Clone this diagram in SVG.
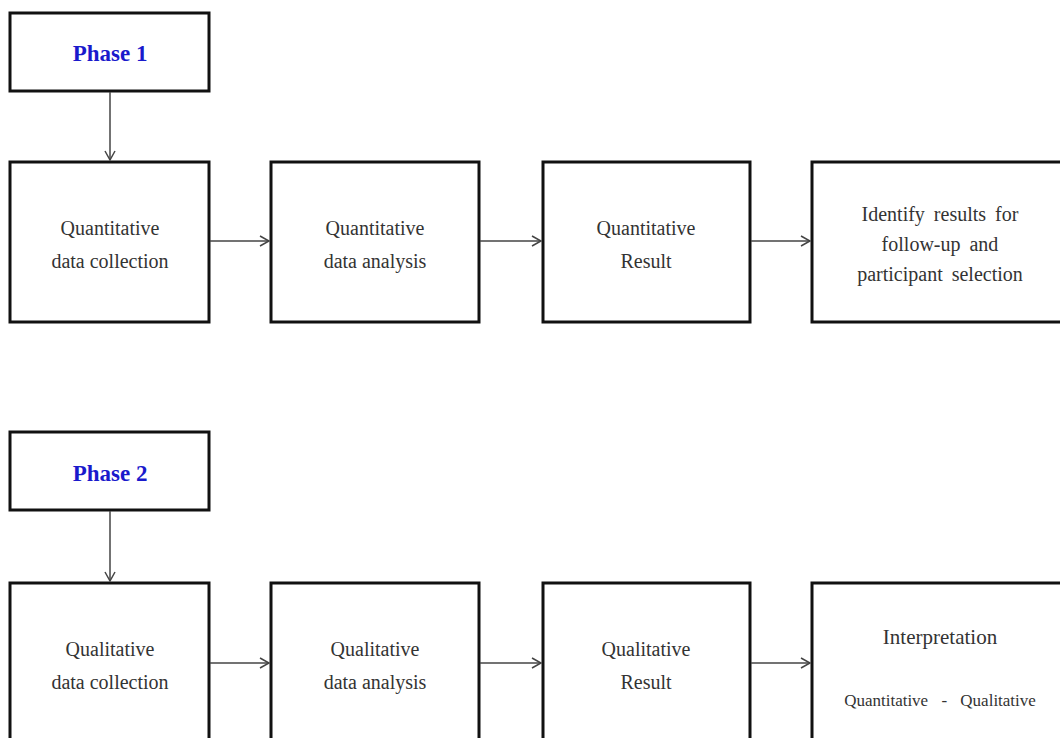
<svg xmlns="http://www.w3.org/2000/svg" width="1060" height="738" viewBox="0 0 1060 738">
<style>
.box{fill:#fff;stroke:#111;stroke-width:3}
.t{font-family:"Liberation Serif",serif;font-size:20px;fill:#333;text-anchor:middle}
.w{font-size:20px;word-spacing:4px}
.i{font-size:21px}
.s{font-size:17px;word-spacing:9px}
.ph{font-family:"Liberation Serif",serif;font-size:23px;font-weight:bold;fill:#1a1acc;text-anchor:middle}
.c{stroke:#444;stroke-width:1.5;fill:none;marker-end:url(#ah)}
</style>
<defs>
<marker id="ah" markerWidth="12" markerHeight="12" refX="10" refY="6" orient="auto" markerUnits="userSpaceOnUse">
<path d="M1,1 L10,6 L1,11" fill="none" stroke="#444" stroke-width="1.5"/>
</marker>
</defs>
<rect width="1060" height="738" fill="#fff"/>
<g id="phase1"><rect class="box" x="10" y="13" width="199" height="78"/><text class="ph" x="110" y="61">Phase 1</text></g>
<g id="qn-collect"><rect class="box" x="10" y="162" width="199" height="160"/><text class="t" x="110" y="235">Quantitative</text><text class="t" x="110" y="268">data collection</text></g>
<g id="qn-analysis"><rect class="box" x="271" y="162" width="208" height="160"/><text class="t" x="375" y="235">Quantitative</text><text class="t" x="375" y="268">data analysis</text></g>
<g id="qn-result"><rect class="box" x="543" y="162" width="207" height="160"/><text class="t" x="646" y="235">Quantitative</text><text class="t" x="646" y="268">Result</text></g>
<g id="identify"><rect class="box" x="812" y="162" width="252" height="160"/><text class="t w" x="940" y="221">Identify results for</text><text class="t w" x="940" y="251">follow-up and</text><text class="t w" x="940" y="281">participant selection</text></g>
<g id="phase2"><rect class="box" x="10" y="432" width="199" height="78"/><text class="ph" x="110" y="481">Phase 2</text></g>
<g id="ql-collect"><rect class="box" x="10" y="583" width="199" height="160"/><text class="t" x="110" y="656">Qualitative</text><text class="t" x="110" y="689">data collection</text></g>
<g id="ql-analysis"><rect class="box" x="271" y="583" width="208" height="160"/><text class="t" x="375" y="656">Qualitative</text><text class="t" x="375" y="689">data analysis</text></g>
<g id="ql-result"><rect class="box" x="543" y="583" width="207" height="160"/><text class="t" x="646" y="656">Qualitative</text><text class="t" x="646" y="689">Result</text></g>
<g id="interp"><rect class="box" x="812" y="583" width="252" height="160"/><text class="t i" x="940" y="644">Interpretation</text><text class="t s" x="940" y="706">Quantitative - Qualitative</text></g>
<g id="connectors">
<line class="c" x1="110" y1="92" x2="110" y2="160"/>
<line class="c" x1="210" y1="241" x2="269" y2="241"/>
<line class="c" x1="480" y1="241" x2="541" y2="241"/>
<line class="c" x1="751" y1="241" x2="810" y2="241"/>
<line class="c" x1="110" y1="511" x2="110" y2="581"/>
<line class="c" x1="210" y1="663" x2="269" y2="663"/>
<line class="c" x1="480" y1="663" x2="541" y2="663"/>
<line class="c" x1="751" y1="663" x2="810" y2="663"/>
</g>
</svg>
